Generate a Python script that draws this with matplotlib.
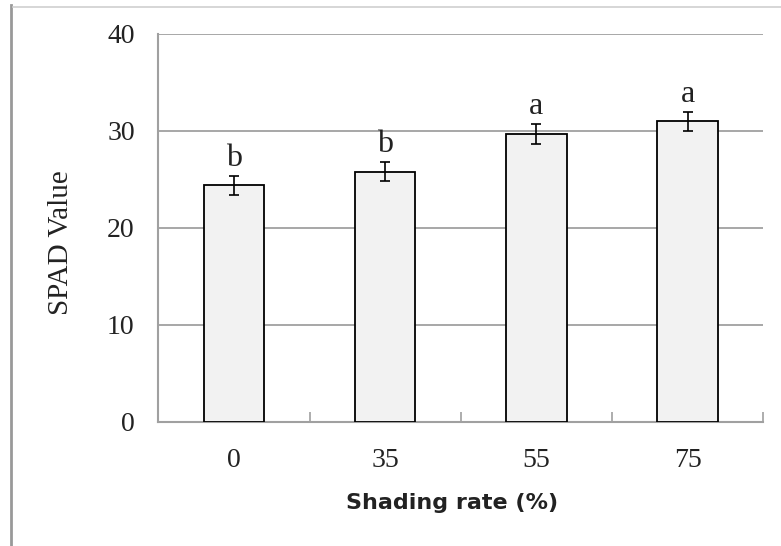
import matplotlib
matplotlib.use('Agg')
import matplotlib.pyplot as plt
import numpy as np
from matplotlib.lines import Line2D

# data
categories = ['0', '35', '55', '75']
spad_mean = [24.4, 25.8, 29.7, 31.0]
spad_err = [1.0, 1.0, 1.0, 1.0]
letters = ['b', 'b', 'a', 'a']

serif = 'Liberation Serif'
grey = '#a0a0a0'

fig = plt.figure(figsize=(7.81, 5.46), dpi=100)
ax = fig.add_axes([158.3 / 781, 1 - 421.7 / 546, 605 / 781, 387.7 / 546])

x = np.arange(len(categories))
ax.bar(x, spad_mean, width=0.4, color='#f2f2f2', edgecolor='black',
       linewidth=1.3, zorder=3)
ax.errorbar(x, spad_mean, yerr=spad_err, fmt='none', ecolor='black',
            elinewidth=1.2, capsize=3.5, capthick=1.2, zorder=4)

for xi, m, e, lab in zip(x, spad_mean, spad_err, letters):
    ax.annotate(lab, (xi, m + e), xytext=(0, 7), textcoords='offset points',
                ha='center', va='baseline', fontsize=23, family=serif,
                color='#222222')

ax.set_xlim(-0.5, 3.5)
ax.set_ylim(0, 40)
ax.set_yticks([0, 10, 20, 30, 40])
ax.yaxis.grid(True, color=grey, linewidth=1.3, zorder=0)
ax.set_axisbelow(True)

ax.set_xticks(x)
ax.set_xticklabels(categories)
ax.set_xticks([0.5, 1.5, 2.5, 3.5], minor=True)
ax.tick_params(axis='x', which='major', length=0, pad=19)
ax.tick_params(axis='x', which='minor', direction='in', length=7,
               width=1.2, color=grey)
ax.tick_params(axis='y', length=0, pad=17)
for t in ax.get_xticklabels() + ax.get_yticklabels():
    t.set_fontfamily(serif)
    t.set_fontsize(20)
    t.set_color('#222222')

for side in ['top', 'right']:
    ax.spines[side].set_visible(False)
for side in ['left', 'bottom']:
    ax.spines[side].set_color(grey)
    ax.spines[side].set_linewidth(1.5)

ax.set_ylabel('SPAD Value', fontsize=21, family=serif, color='#222222',
              va='center')
ax.yaxis.set_label_coords(-0.161, 0.463)
ax.set_xlabel('Shading rate (%)', fontsize=16, fontweight='bold',
              color='#222222', va='center')
ax.xaxis.set_label_coords(0.486, -0.21)

# page border lines
fig.add_artist(Line2D([11 / 781, 11 / 781], [0, 1 - 5 / 546],
                      transform=fig.transFigure, color='#999999', linewidth=2))
fig.add_artist(Line2D([13 / 781, 1], [1 - 7 / 546, 1 - 7 / 546],
                      transform=fig.transFigure, color='#d0d0d0', linewidth=1.2))

plt.savefig('out.png', dpi=100)
